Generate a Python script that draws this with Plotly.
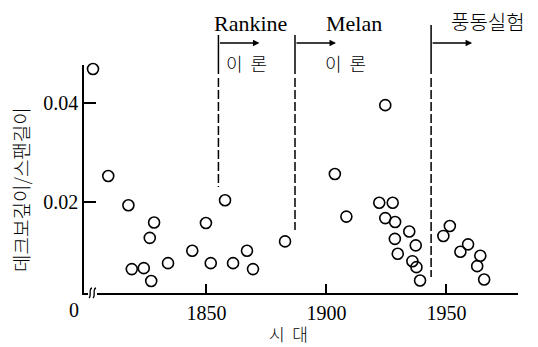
import plotly.graph_objects as go

# ---- data ----
years = [1802.75, 1809.1, 1817.5, 1828.2, 1826.4, 1818.9, 1823.9, 1827.0, 1834.0,
         1844.1, 1849.8, 1851.8, 1857.75, 1861.1, 1866.9, 1869.4, 1882.75,
         1903.5, 1908.3, 1924.5, 1922.0, 1927.6, 1924.5, 1928.6, 1928.5, 1934.5,
         1929.7, 1937.2, 1935.8, 1937.5, 1939.0,
         1948.7, 1951.4, 1959.0, 1955.8, 1964.1, 1962.8, 1965.7]
ratios = [0.0469, 0.0253, 0.0194, 0.0159, 0.0128, 0.0065, 0.0067, 0.0041, 0.0077,
          0.0102, 0.0158, 0.0077, 0.0204, 0.0077, 0.0102, 0.0065, 0.0121,
          0.0257, 0.0171, 0.0396, 0.0199, 0.0199, 0.0168, 0.0160, 0.0126, 0.0141,
          0.0096, 0.0113, 0.0081, 0.0069, 0.0042,
          0.0132, 0.0152, 0.0115, 0.0100, 0.0092, 0.0071, 0.0044]

era_years = [1855.0, 1886.9, 1943.6]          # Rankine, Melan, wind tunnel
era_labels = ["Rankine", "Melan", "풍동실험"]
tick_years = [1850, 1900, 1950]
tick_ratios = [0.02, 0.04]
ytick_text = ["0.02", "0.04"]

X_RANGE = [1799.0, 1979.8]
Y_RANGE = [0.00168, 0.0477]

# page offset from the default body margin
OFF = 8
# plot area in page pixels (for converting decorations to paper coords)
L, R, T, B = 84, 518, 65, 293
def px(xpix):
    return (xpix - L) / (R - L)
def py(ypix):
    return (B - ypix) / (B - T)
def xp_year(yr):
    return (yr - X_RANGE[0]) / (X_RANGE[1] - X_RANGE[0])

SERIF = "Liberation Serif, Times New Roman, serif"
KR = "Noto Sans CJK KR, sans-serif"

fig = go.Figure()
fig.add_trace(go.Scatter(
    x=years, y=ratios, mode="markers",
    marker=dict(symbol="circle-open", size=11, color="black", line=dict(width=1.6, color="black")),
    showlegend=False, cliponaxis=False,
))

shapes = []
annotations = []

def label(x, y, text, font, **kw):
    annotations.append(dict(xref="paper", yref="paper", x=x, y=y, text=text,
                            xanchor="center", yanchor="middle", showarrow=False,
                            font=font, **kw))

bottoms = [187, 230, 277]
tops = [35, 35, 25]
for yr, top, bot in zip(era_years, tops, bottoms):
    xpos = xp_year(yr)
    shapes.append(dict(type="line", xref="paper", yref="paper", x0=xpos, x1=xpos,
                       y0=py(top), y1=py(74), line=dict(color="black", width=1.5)))
    shapes.append(dict(type="line", xref="paper", yref="paper", x0=xpos, x1=xpos,
                       y0=py(78), y1=py(bot), line=dict(color="black", width=1.5, dash="9px,3px")))
    # arrow
    annotations.append(dict(xref="paper", yref="paper", x=xpos + 41 / (R - L), y=py(43),
                            ax=-41, ay=0, axref="pixel", ayref="pixel", text="",
                            showarrow=True, arrowhead=2, arrowsize=1, arrowwidth=1.3,
                            arrowcolor="black"))

# era labels
label(px(250.5), py(23), era_labels[0], dict(family=SERIF, size=22, color="black"))
label(px(353.5), py(23), era_labels[1], dict(family=SERIF, size=22, color="black"))
label(px(488), py(22), era_labels[2], dict(family=KR, size=20, color="black", weight=300))
for cx in (246.5, 345.5):
    label(px(cx), py(63), "이  론", dict(family=KR, size=18, color="black", weight=300))

# axis titles and zero label
label(px(288), py(333), "시  대", dict(family=KR, size=17, color="black", weight=300))
label(px(20), py(190), "데크보깊이/스팬길이", dict(family=KR, size=19, color="black", weight=300),
      textangle=-90)
label(px(74), py(310), "0", dict(family=SERIF, size=20, color="black"))

# axis break marks on the x axis
shapes.append(dict(type="rect", xref="paper", yref="paper", x0=px(88), x1=px(97),
                   y0=py(296), y1=py(290), fillcolor="white", line=dict(width=0)))
for x0 in (89, 93):
    path = "M {a},{b} C {c},{d} {e},{f} {g},{h}".format(
        a=px(x0), b=py(298), c=px(x0 + 3), d=py(296), e=px(x0 - 1), f=py(289), g=px(x0 + 3), h=py(288))
    shapes.append(dict(type="path", xref="paper", yref="paper", path=path,
                       line=dict(color="black", width=1.3)))

fig.update_layout(
    width=538 - OFF, height=347 - OFF,
    margin=dict(l=L - OFF, r=538 - R, t=T - OFF, b=347 - B),
    paper_bgcolor="white", plot_bgcolor="white",
    xaxis=dict(range=X_RANGE, tickvals=tick_years, ticktext=[str(t) for t in tick_years],
               ticks="inside", ticklen=9, tickwidth=1.5, tickcolor="black",
               showline=True, linecolor="black", linewidth=1.5, showgrid=False, zeroline=False,
               tickfont=dict(family=SERIF, size=20, color="black"), ticklabelstandoff=1),
    yaxis=dict(range=Y_RANGE, tickvals=tick_ratios, ticktext=ytick_text,
               ticks="inside", ticklen=12, tickwidth=1.5, tickcolor="black",
               showline=True, linecolor="black", linewidth=1.5, showgrid=False, zeroline=False,
               tickfont=dict(family=SERIF, size=20, color="black")),
    shapes=shapes, annotations=annotations,
)

fig.write_html("out.html")
